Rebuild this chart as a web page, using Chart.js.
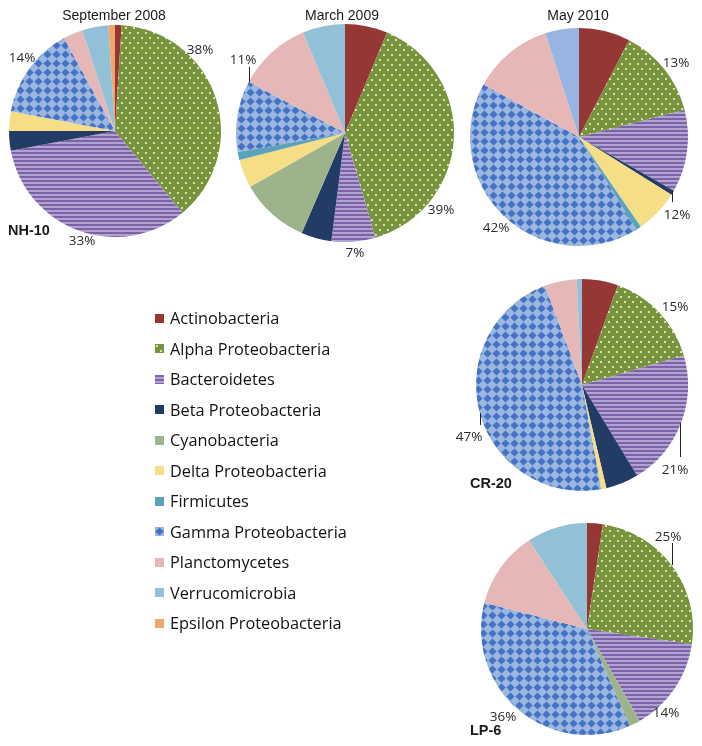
<!DOCTYPE html>
<html>
<head>
<meta charset="utf-8">
<script src="https://cdn.jsdelivr.net/npm/chart.js@4.4.1/dist/chart.umd.min.js"></script>
<style>
  html, body { margin: 0; padding: 0; background: #fff; }
  body { width: 702px; height: 746px; position: relative; overflow: hidden; }
  canvas.pie { position: absolute; }
  .title { position: absolute; font-family: "Liberation Sans", Arial, sans-serif; font-size: 14px; color: #1a1a1a; transform: translate(-50%, -50%); white-space: nowrap; }
  .site { position: absolute; font-family: "Liberation Sans", Arial, sans-serif; font-weight: bold; font-size: 14.5px; color: #1a1a1a; transform: translateY(-50%); white-space: nowrap; }
  #legend { position: absolute; left: 155px; top: 303px; }
  .row { height: 30.5px; display: flex; align-items: center; font-family: "Open Sans", sans-serif; font-size: 16.3px; color: #111; }
  .row canvas { width: 9px; height: 9px; margin-right: 6px; }
</style>
</head>
<body>
<div id="legend"></div>
<script>
// categories and values (percent) per sample
const categories = ['Actinobacteria', 'Alpha Proteobacteria', 'Bacteroidetes', 'Beta Proteobacteria',
  'Cyanobacteria', 'Delta Proteobacteria', 'Firmicutes', 'Gamma Proteobacteria',
  'Planctomycetes', 'Verrucomicrobia', 'Epsilon Proteobacteria'];
const nh10Sep2008 = [1, 38, 33, 3, 0, 3, 0, 14, 3, 4, 1];
const nh10Mar2009 = [6.3, 39.2, 6.5, 4.5, 10.3, 4.2, 1.2, 10.6, 10.9, 6.3, 0];
const nh10May2010 = [7.6, 13.4, 12.2, 0.7, 0, 6.5, 0.8, 41.8, 12, 5, 0];
const cr20 = [5.5, 15, 20.8, 5, 0, 0.8, 0, 47.2, 4.9, 0.8, 0];
const lp6 = [2.4, 24.9, 14.4, 0, 1.7, 0, 0, 35.6, 11.8, 9.2, 0];
const labelled = [1, 2, 7]; // Alpha, Bacteroidetes, Gamma get % labels

const solid = ['#953735', null, null, '#233c66', '#9db38b', '#f6de87', '#5ba3bc', null, '#e5b8b7', '#92c0d6', '#f0a56e'];

function makePattern(kind) {
  const c = document.createElement('canvas');
  const g = c.getContext('2d');
  if (kind === 'dots') {
    c.width = 8; c.height = 10;
    g.fillStyle = '#77933c'; g.fillRect(0, 0, 8, 10);
    g.fillStyle = '#d3e2b0';
    g.fillRect(1, 1, 2, 2); g.fillRect(5, 6, 2, 2);
  } else if (kind === 'stripes') {
    c.width = 4; c.height = 4;
    g.fillStyle = '#7d63a6'; g.fillRect(0, 0, 4, 4);
    g.fillStyle = '#b0a2d2'; g.fillRect(0, 2, 4, 2);
  } else {
    c.width = 9; c.height = 9;
    g.fillStyle = '#9bb7e0'; g.fillRect(0, 0, 9, 9);
    g.fillStyle = '#4472c4';
    g.beginPath(); g.moveTo(4.5, 0.4); g.lineTo(8.6, 4.5); g.lineTo(4.5, 8.6); g.lineTo(0.4, 4.5); g.closePath(); g.fill();
  }
  return c;
}
const tiles = { 1: makePattern('dots'), 2: makePattern('stripes'), 7: makePattern('diamonds') };

function fills(ctx, overrides) {
  return categories.map((_, i) => {
    if (overrides && overrides[i]) return overrides[i];
    if (tiles[i]) return ctx.createPattern(tiles[i], 'repeat');
    return solid[i];
  });
}

const pctLabels = {
  id: 'pctLabels',
  afterDraw(chart, args, opts) {
    const ctx = chart.ctx;
    const arc = chart.getDatasetMeta(0).data[0];
    const cx = arc.x, cy = arc.y;
    const vals = chart.data.datasets[0].data;
    ctx.save();
    ctx.font = '13.5px "Open Sans", sans-serif';
    ctx.fillStyle = '#2a2a2a';
    ctx.textAlign = 'center';
    ctx.textBaseline = 'middle';
    labelled.forEach((idx, k) => {
      const p = opts.pos[k];
      ctx.fillText(Math.round(vals[idx]) + '%', cx + p[0], cy + p[1]);
    });
    ctx.strokeStyle = '#222';
    ctx.lineWidth = 1;
    (opts.lines || []).forEach(l => {
      ctx.beginPath();
      ctx.moveTo(cx + l[0] + 0.5, cy + l[1]);
      ctx.lineTo(cx + l[2] + 0.5, cy + l[3]);
      ctx.stroke();
    });
    ctx.restore();
  }
};

const SIZE = 270;
function pie(values, cx, cy, r, pos, lines, overrides) {
  const cv = document.createElement('canvas');
  cv.className = 'pie';
  cv.width = SIZE; cv.height = SIZE;
  cv.style.left = (cx - SIZE / 2) + 'px';
  cv.style.top = (cy - SIZE / 2) + 'px';
  document.body.appendChild(cv);
  const ctx = cv.getContext('2d');
  new Chart(cv, {
    type: 'pie',
    data: {
      labels: categories,
      datasets: [{ data: values, backgroundColor: fills(ctx, overrides), borderWidth: 0, radius: r }]
    },
    options: {
      responsive: false,
      animation: false,
      events: [],
      layout: { padding: 0 },
      plugins: {
        legend: { display: false },
        tooltip: { enabled: false },
        pctLabels: { pos: pos, lines: lines }
      }
    },
    plugins: [pctLabels]
  });
}

pie(nh10Sep2008, 115, 131, 106, [[85, -81], [-33, 110], [-93, -73]], []);
pie(nh10Mar2009, 345, 133, 109, [[96, 77], [10, 120], [-102, -73]], [[-96, -66, -96, -51]]);
pie(nh10May2010, 579, 137, 109, [[97, -74], [98, 78], [-83, 91]], [[93, 54, 93, 65]], { 9: '#98b4e0' });
pie(cr20, 582, 385, 106, [[93, -78], [93, 85], [-113, 52]], [[98, 38, 98, 72], [-102, 28, -102, 40]]);
pie(lp6, 587, 629, 106, [[81, -92], [79, 84], [-84, 88]], [[85, -86, 85, -64]]);

// titles and site names
function text(cls, str, x, y) {
  const d = document.createElement('div');
  d.className = cls; d.textContent = str;
  d.style.left = x + 'px'; d.style.top = y + 'px';
  document.body.appendChild(d);
}
text('title', 'September 2008', 114, 15);
text('title', 'March 2009', 342, 15);
text('title', 'May 2010', 578, 15);
text('site', 'NH-10', 8, 230);
text('site', 'CR-20', 470, 483);
text('site', 'LP-6', 470, 730);

// legend
const legend = document.getElementById('legend');
categories.forEach((name, i) => {
  const row = document.createElement('div');
  row.className = 'row';
  const sw = document.createElement('canvas');
  sw.width = 9; sw.height = 9;
  const g = sw.getContext('2d');
  g.fillStyle = tiles[i] ? g.createPattern(tiles[i], 'repeat') : solid[i];
  g.fillRect(0, 0, 9, 9);
  row.appendChild(sw);
  row.appendChild(document.createTextNode(name));
  legend.appendChild(row);
});
</script>
</body>
</html>
